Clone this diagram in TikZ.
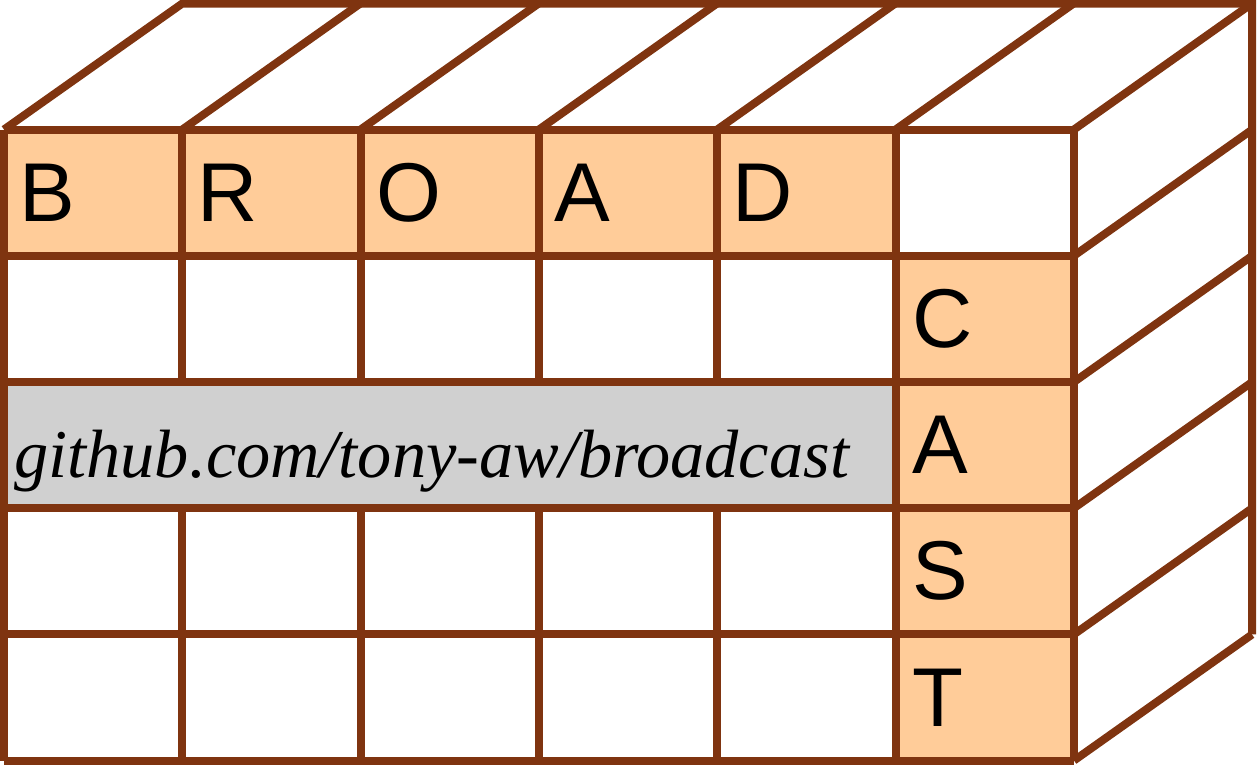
\documentclass[tikz,border=0pt]{standalone}
\usepackage{fontspec}
\setmainfont{Liberation Serif}
\setsansfont{Liberation Sans}
\definecolor{boxline}{RGB}{127,52,16}
\definecolor{cellorange}{RGB}{255,204,153}
\definecolor{cellgray}{RGB}{208,208,208}

\begin{document}
\begin{tikzpicture}[x=0.02cm,y=-0.02cm,line join=miter,
    grid line/.style={draw=boxline,line width=0.16cm},
    letter/.style={anchor=west,inner sep=0pt,font=\sffamily\fontsize{47.5}{47.5}\selectfont},
    url text/.style={anchor=base west,inner sep=0pt,font=\itshape\fontsize{38.9}{38.9}\selectfont}]
                \useasboundingbox (0,0) rectangle (1257,765);

                % filled cells
                \fill[cellorange] (4,129.5) rectangle (895.7,255.7);
                \fill[cellorange] (895.7,255.7) rectangle (1074,760.5);
                \fill[cellgray] (4,381.9) rectangle (895.7,508.1);

                % front face
                \foreach \r in {0,...,5}
                    \draw[grid line] (4,129.5+126.2*\r) -- (1074,129.5+126.2*\r);
                \draw[grid line] (4,129.5) -- (4,760.5);
                \draw[grid line] (895.7,129.5) -- (895.7,760.5);
                \draw[grid line] (1074,129.5) -- (1074,760.5);
                \foreach \c in {1,...,4} {
                    \draw[grid line] (4+178.33*\c,129.5) -- (4+178.33*\c,381.9);
                    \draw[grid line] (4+178.33*\c,508.1) -- (4+178.33*\c,760.5);
                }

                % top and side faces
                \draw[grid line] (4,129.5) -- (182.3,3.5) -- (1252,3.5) -- (1252,634.3);
                \foreach \c in {1,...,6}
                    \draw[grid line] (4+178.33*\c,129.5) -- ++(178,-126);
                \foreach \r in {1,...,5}
                    \draw[grid line] (1074,129.5+126.2*\r) -- ++(178,-126);

                % letters
                \node[letter] (b) at (19,192.6) {B};
                \node[letter] (r) at (197.3,192.6) {R};
                \node[letter] (o) at (375.7,192.6) {O};
                \node[letter] (a) at (554,192.6) {A};
                \node[letter] (d) at (732.3,192.6) {D};
                \node[letter] (c) at (911.7,318.8) {C};
                \node[letter] (a2) at (911.7,445) {A};
                \node[letter] (s) at (911.7,571.2) {S};
                \node[letter] (t) at (911.7,697.4) {T};

                \node[url text] (url) at (14,477) {github.com/tony-aw/broadcast};
            \end{tikzpicture}
\end{document}
